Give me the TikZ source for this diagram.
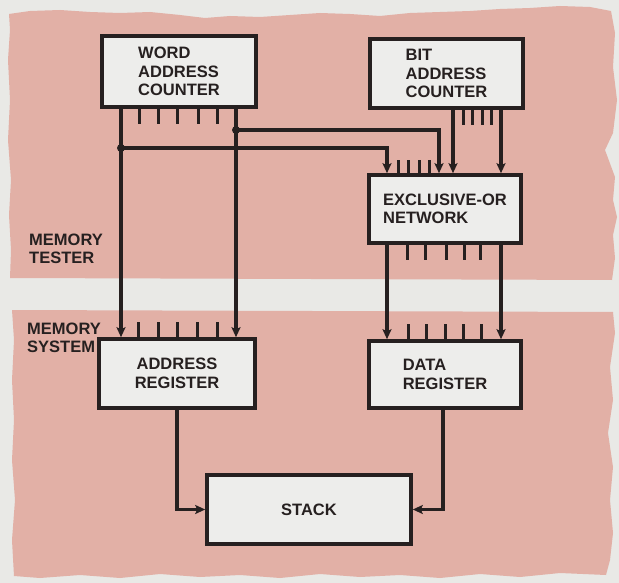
\documentclass[tikz,border=0pt]{standalone}
\usepackage{fontspec}
\setmainfont{Liberation Sans}
\usetikzlibrary{arrows.meta,calc}
\definecolor{paper}{RGB}{233,233,230}
\definecolor{band}{RGB}{226,176,166}
\definecolor{boxfill}{RGB}{237,237,235}
\definecolor{ink}{RGB}{38,32,32}
\newcommand{\diagfont}{\fontsize{16.5}{18.5}\selectfont\bfseries}

\begin{document}
\begin{tikzpicture}[x=1pt, y=-1pt,
  blk/.style={draw=ink, line width=3.6pt, fill=boxfill, text=ink, inner sep=0pt, align=left, font=\diagfont},
  lbl/.style={anchor=west, align=left, inner sep=0pt, text=ink, font=\diagfont},
  wire/.style={draw=ink, line width=3.2pt},
  arr/.style={wire, -{Stealth[length=10pt, width=9pt, inset=2pt]}},
  stub/.style={draw=ink, line width=3pt}
]
  \useasboundingbox (0,0) rectangle (619,583);
  \fill[paper] (0,0) rectangle (619,583);

  \fill[band] (10,278) -- (11,250) -- (9,215) -- (11,180) -- (8,140) -- (10,100) -- (8,60) -- (10,30) -- (9,14)
    -- (30,11) -- (60,10) -- (90,12) -- (120,13) -- (150,12) -- (180,15) -- (205,18) -- (230,16) -- (260,17)
    -- (290,15) -- (320,13) -- (350,14) -- (380,16) -- (410,13) -- (440,12) -- (470,11) -- (500,9) -- (530,8)
    -- (560,6) -- (590,7) -- (611,11) -- (615,33) -- (613,67) -- (617,100) -- (613,133) -- (605,150)
    -- (615,177) -- (613,200) -- (617,217) -- (613,235) -- (615,258) -- (612,280) -- cycle;
  \fill[band] (12,310) -- (613,312) -- (615,333) -- (610,367) -- (613,400) -- (608,433) -- (613,467)
    -- (610,500) -- (613,533) -- (610,560) -- (606,575) -- (560,573) -- (520,577) -- (480,574) -- (440,578)
    -- (400,575) -- (360,577) -- (320,574) -- (280,578) -- (240,575) -- (200,577) -- (160,574) -- (120,578)
    -- (80,575) -- (40,578) -- (14,576) -- (12,540) -- (15,500) -- (12,460) -- (14,420) -- (12,380)
    -- (14,340) -- cycle;

  \node[blk, minimum width=154pt, minimum height=71pt] (wac) at (179,71.5) {WORD\\ADDRESS\\COUNTER};
  \node[blk, minimum width=153pt, minimum height=69pt] (bac) at (446.5,73.5) {BIT\\ADDRESS\\COUNTER};
  \node[blk, minimum width=152pt, minimum height=68pt] (xor) at (445,209) {EXCLUSIVE-OR\\NETWORK};
  \node[blk, minimum width=152pt, minimum height=67pt] (dreg) at (445,374.5) {DATA\\REGISTER};
  \node[blk, align=center, minimum width=156pt, minimum height=69pt] (areg) at (177,373.5) {ADDRESS\\REGISTER};
  \node[blk, align=center, minimum width=204pt, minimum height=69pt] (stack) at (309,509.5) {STACK};

  \node[lbl] (tester) at (29,249) {MEMORY\\TESTER};
  \node[lbl] (system) at (27,338) {MEMORY\\SYSTEM};

  \foreach \dx in {-40,-21,-2,19,38} \draw[stub] ([xshift=\dx pt]wac.south) -- ++(0,15);
  \foreach \dx in {16.5,25.5,35.5,44.5} \draw[stub] ([xshift=\dx pt]bac.south) -- ++(0,15);
  \foreach \dx in {-47,-37,-26,-16} \draw[stub] ([xshift=\dx pt]xor.north) -- ++(0,-13);
  \foreach \dx in {-38,-20,1,19,35} \draw[stub] ([xshift=\dx pt]xor.south) -- ++(0,15);
  \foreach \dx in {-37,-19,0,18,36} \draw[stub] ([xshift=\dx pt]dreg.north) -- ++(0,-15);
  \foreach \dx in {-39,-19,0,20,40} \draw[stub] ([xshift=\dx pt]areg.north) -- ++(0,-15);

  \coordinate (j1) at (121,148);
  \coordinate (j2) at (236,130);
  \coordinate (x1) at (387,0);
  \coordinate (x2) at (439,0);
  \coordinate (x3) at (453,0);
  \coordinate (x4) at (501,0);

  \draw[arr] (wac.south -| j1) -- (areg.north -| j1);
  \draw[arr] (wac.south -| j2) -- (areg.north -| j2);
  \draw[arr] (j1) -| (xor.north -| x1);
  \draw[arr] (j2) -| (xor.north -| x2);
  \fill[ink] (j1) circle[radius=4pt];
  \fill[ink] (j2) circle[radius=4pt];
  \draw[arr] (bac.south -| x3) -- (xor.north -| x3);
  \draw[arr] (bac.south -| x4) -- (xor.north -| x4);
  \draw[arr] (xor.south -| x1) -- (dreg.north -| x1);
  \draw[arr] (xor.south -| x4) -- (dreg.north -| x4);
  \draw[arr] (areg.south) |- (stack.west);
  \draw[arr] ([xshift=-2pt]dreg.south) |- (stack.east);
\end{tikzpicture}
\end{document}
